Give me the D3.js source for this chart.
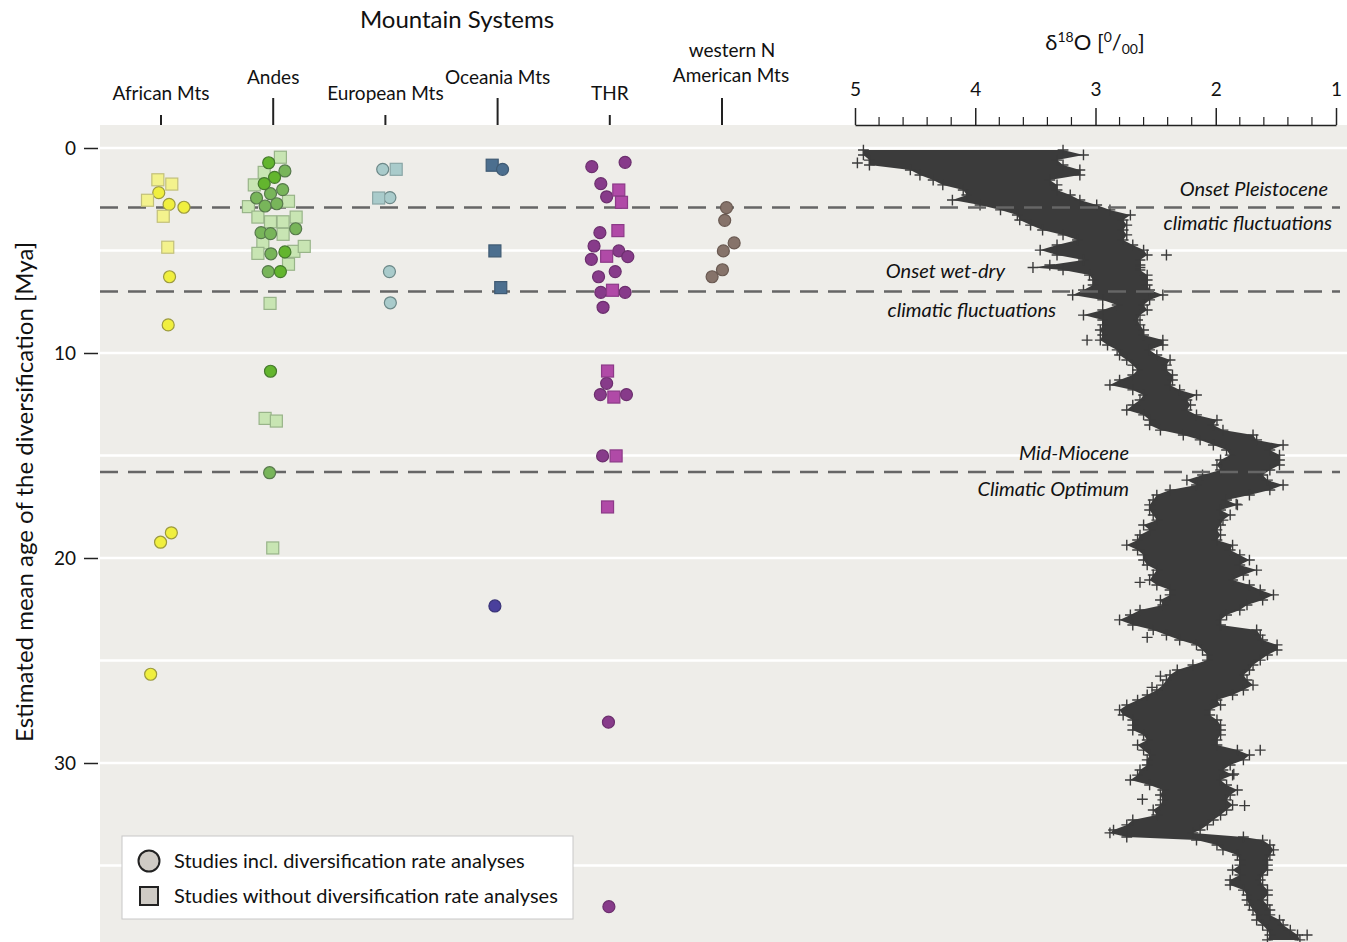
<!DOCTYPE html>
<html>
<head>
<meta charset="utf-8">
<script src="https://cdn.jsdelivr.net/npm/d3@7"></script>
<style>
  body { margin: 0; background: #fff; }
  text { font-family: Lato, "Noto Sans", sans-serif; fill: #111; }
</style>
</head>
<body>
<script>
// ---- data ----
const systems = ["African Mts", "Andes", "European Mts", "Oceania Mts", "THR", "western N American Mts"];

// [age (Mya), jitter] ; jitter is the within-column spread, -1..1
const africanCircles = [[2.18,-0.05],[2.75,0.18],[2.89,0.51],[6.28,0.19],[8.63,0.16],[18.77,0.23],[19.23,-0.01],[25.67,-0.23]];
const africanSquares = [[1.55,-0.07],[1.76,0.24],[2.55,-0.30],[3.33,0.05],[4.84,0.15]];
const andesCirclesBright = [[0.72,-0.10],[1.43,0.03],[1.74,-0.20],[5.07,0.26],[6.03,0.16],[10.89,-0.06]];
const andesCircles = [[1.12,0.26],[2.23,-0.06],[2.03,0.21],[2.44,-0.37],[2.83,-0.18],[2.72,0.08],[4.13,-0.27],[4.18,-0.06],[3.94,0.50],[5.16,-0.05],[6.03,-0.11],[15.84,-0.08]];
const andesSquares = [[0.45,0.16],[1.19,-0.20],[1.80,-0.42],[2.60,0.34],[2.86,-0.55],[3.37,-0.34],[3.60,-0.06],[3.60,0.22],[3.37,0.51],[4.21,0.22],[4.63,-0.23],[5.14,-0.34],[5.04,0.46],[4.80,0.69],[5.67,0.34],[7.58,-0.07],[13.19,-0.18],[13.32,0.07],[19.51,-0.01]];
const europeanCircles = [[1.04,-0.06],[2.42,0.10],[6.03,0.09],[7.55,0.11]];
const europeanSquares = [[1.04,0.24],[2.44,-0.15]];
const oceaniaCircles = [[1.04,0.11]];
const oceaniaCirclesDark = [[22.34,-0.06]];
const oceaniaSquares = [[0.84,-0.12],[5.02,-0.06],[6.81,0.07]];
const thrCircles = [[0.91,-0.40],[0.70,0.34],[1.74,-0.20],[2.38,-0.07],[4.13,-0.22],[4.78,-0.35],[5.43,-0.41],[5.02,0.20],[5.30,0.40],[6.28,-0.25],[6.03,0.12],[7.04,-0.20],[7.04,0.34],[7.77,-0.15],[11.48,-0.07],[12.03,-0.21],[12.03,0.37],[15.02,-0.16],[28.01,-0.03],[37.01,-0.02]];
const thrSquares = [[2.05,0.20],[2.65,0.26],[4.03,0.18],[5.28,-0.07],[6.94,0.06],[10.88,-0.05],[12.15,0.09],[15.02,0.14],[17.51,-0.05]];
const wnaCircles = [[2.91,0.10],[3.53,0.06],[4.63,0.27],[5.02,0.03],[5.94,0.01],[6.28,-0.22]];

// climatic events (Mya)
const events = [2.9, 7.0, 15.8];

// benthic d18O envelope: [age, heaviest (left), lightest (right)]
const d18O = [
[0.10,4.93,3.27],[0.34,4.93,3.10],[0.59,4.88,3.32],[0.83,4.88,3.27],[1.07,4.54,3.13],[1.32,4.46,3.13],
[1.56,4.35,3.38],[1.80,4.27,3.32],[2.05,4.10,3.32],[2.29,4.07,3.21],[2.54,4.19,3.13],[2.78,3.96,2.99],
[3.02,3.79,2.88],[3.27,3.65,2.71],[3.51,3.63,2.77],[3.76,3.54,2.74],[4.00,3.44,2.77],[4.24,3.27,2.74],
[4.49,3.15,2.77],[4.73,3.32,2.69],[4.98,3.46,2.60],[5.22,3.32,2.57],[5.46,3.10,2.63],[5.71,3.38,2.63],
[5.83,3.52,2.63],[5.95,3.27,2.63],[6.20,3.05,2.57],[6.44,3.02,2.57],[6.68,3.02,2.57],[6.93,3.10,2.55],
[7.17,3.19,2.44],[7.41,2.94,2.55],[7.66,2.82,2.60],[7.90,2.94,2.57],[8.15,3.10,2.63],[8.39,2.94,2.65],
[8.63,2.94,2.63],[8.88,2.96,2.60],[9.12,2.94,2.60],[9.37,2.96,2.44],[9.61,2.90,2.44],[9.85,2.82,2.55],
[10.10,2.80,2.49],[10.34,2.74,2.38],[10.59,2.69,2.41],[10.83,2.65,2.41],[11.07,2.69,2.36],[11.32,2.80,2.36],
[11.56,2.88,2.38],[11.80,2.69,2.30],[12.05,2.60,2.16],[12.29,2.63,2.24],[12.54,2.69,2.21],[12.78,2.74,2.24],
[13.02,2.60,2.16],[13.27,2.55,1.99],[13.51,2.55,2.02],[13.76,2.46,1.94],[14.00,2.27,1.69],[14.24,2.13,1.66],
[14.49,2.02,1.44],[14.73,1.91,1.55],[14.98,1.88,1.47],[15.22,1.96,1.47],[15.46,1.99,1.47],[15.71,1.96,1.55],
[15.95,2.11,1.61],[16.20,2.24,1.57],[16.44,2.16,1.44],[16.68,2.38,1.55],[16.93,2.49,1.72],[17.17,2.52,1.91],
[17.41,2.55,1.82],[17.66,2.55,1.96],[17.90,2.52,1.88],[18.15,2.49,1.94],[18.39,2.60,1.96],[18.63,2.55,1.99],
[18.88,2.63,1.96],[19.12,2.65,1.99],[19.37,2.74,1.86],[19.61,2.65,1.88],[19.85,2.60,1.80],[20.10,2.60,1.72],
[20.34,2.57,1.80],[20.59,2.49,1.66],[20.83,2.52,1.77],[21.07,2.55,1.86],[21.32,2.49,1.72],[21.56,2.38,1.63],
[21.80,2.38,1.52],[22.05,2.46,1.61],[22.29,2.44,1.74],[22.54,2.63,1.80],[22.78,2.71,1.91],[23.02,2.80,1.96],
[23.27,2.69,1.96],[23.51,2.52,1.66],[23.76,2.41,1.63],[24.00,2.30,1.61],[24.24,2.16,1.49],[24.49,2.11,1.49],
[24.73,2.07,1.57],[24.98,2.07,1.63],[25.22,2.19,1.69],[25.46,2.32,1.72],[25.71,2.38,1.77],[25.95,2.41,1.74],
[26.20,2.44,1.69],[26.44,2.49,1.77],[26.68,2.57,1.86],[26.93,2.65,1.99],[27.17,2.74,1.96],[27.41,2.80,2.05],
[27.66,2.77,2.05],[27.90,2.69,1.99],[28.15,2.69,1.96],[28.39,2.69,1.96],[28.63,2.60,1.96],[28.88,2.57,1.99],
[29.12,2.65,1.99],[29.37,2.60,1.82],[29.61,2.55,1.72],[29.85,2.57,1.77],[30.10,2.57,1.88],[30.34,2.63,1.94],
[30.59,2.65,1.86],[30.83,2.71,1.96],[31.07,2.55,1.91],[31.32,2.44,1.82],[31.56,2.46,1.88],[31.80,2.44,1.91],
[32.05,2.46,1.86],[32.29,2.52,1.91],[32.54,2.49,1.96],[32.78,2.69,2.02],[33.02,2.74,2.07],[33.27,2.85,2.13],
[33.41,2.88,2.19],[33.61,2.74,1.77],[33.76,2.16,1.61],[34.00,1.99,1.55],[34.24,1.94,1.52],[34.49,1.82,1.55],
[34.73,1.80,1.57],[34.98,1.80,1.57],[35.22,1.86,1.57],[35.46,1.80,1.61],[35.71,1.88,1.63],[35.95,1.88,1.61],
[36.20,1.77,1.57],[36.44,1.74,1.57],[36.68,1.74,1.61],[36.93,1.72,1.57],[37.17,1.69,1.55],[37.41,1.66,1.55],
[37.66,1.66,1.47],[37.90,1.61,1.44],[38.15,1.57,1.38],[38.39,1.55,1.32],[38.63,1.57,1.30]
];
// isolated d18O values: [age, d18O]
const d18OOutliers = [[0.73,4.98],[5.22,2.41],[9.37,3.07],[17.37,1.83],[21.19,2.63],[23.87,2.57],[25.76,2.46],[26.31,2.53],[29.37,1.63],[30.54,1.85],[31.77,2.61],[32.08,1.76],[38.39,1.24]];

const ageTicks = [0, 10, 20, 30];
const ageGrid = [0, 5, 10, 15, 20, 25, 30, 35];
const isoTicks = [5, 4, 3, 2, 1];

// ---- chart ----
const W = 1347, H = 942;
const svg = d3.select("body").append("svg").attr("width", W).attr("height", H);

const panel = { left: 100, top: 125, right: W, bottom: H };
const y = d3.scaleLinear().domain([0, 10]).range([148, 353]);
const xCat = d3.scalePoint().domain(systems).range([161, 722]);
const jit = d3.scaleLinear().domain([-1, 1]).range([-45, 45]);
const xIso = d3.scaleLinear().domain([5, 1]).range([855, 1336]);

svg.append("rect")
  .attr("x", panel.left).attr("y", panel.top)
  .attr("width", panel.right - panel.left).attr("height", panel.bottom - panel.top)
  .attr("fill", "#eeede9");

svg.selectAll(".grid").data(ageGrid).enter().append("line")
  .attr("x1", panel.left).attr("x2", panel.right)
  .attr("y1", d => y(d)).attr("y2", d => y(d))
  .attr("stroke", "#fff").attr("stroke-width", 2.5);

// left axis
const yAxis = svg.append("g").attr("transform", "translate(98,0)")
  .call(d3.axisLeft(y).tickValues(ageTicks).tickSize(14).tickPadding(8).tickFormat(d3.format("d")));
yAxis.select(".domain").remove();
yAxis.selectAll("line").attr("stroke", "#222").attr("stroke-width", 1.5);
yAxis.selectAll("text").attr("font-size", 19).attr("font-family", "Lato, sans-serif").attr("fill", "#111");

svg.append("text")
  .attr("transform", "translate(33,492) rotate(-90)")
  .attr("text-anchor", "middle").attr("font-size", 24)
  .text("Estimated mean age of the diversification [Mya]");

// column headers
svg.append("text").attr("x", 457).attr("y", 28).attr("text-anchor", "middle")
  .attr("font-size", 24).text("Mountain Systems");

systems.forEach((s, i) => {
  const high = i % 2 === 1;
  const g = svg.append("g");
  g.append("line")
    .attr("x1", xCat(s)).attr("x2", xCat(s))
    .attr("y1", high ? 98 : 115).attr("y2", panel.top)
    .attr("stroke", "#222").attr("stroke-width", 2);
  if (s === "western N American Mts") {
    g.append("text").attr("x", xCat(s) + 10).attr("y", 57).attr("text-anchor", "middle")
      .attr("font-size", 19).text("western N");
    g.append("text").attr("x", xCat(s) + 9).attr("y", 82).attr("text-anchor", "middle")
      .attr("font-size", 19).text("American Mts");
  } else {
    g.append("text").attr("x", xCat(s)).attr("y", high ? 84 : 100).attr("text-anchor", "middle")
      .attr("font-size", 19).text(s);
  }
});

// d18O top axis
const isoAxis = svg.append("g").attr("transform", "translate(0,125)");
isoAxis.call(d3.axisTop(xIso).tickValues(isoTicks).tickSize(17).tickSizeOuter(0).tickPadding(12).tickFormat(d3.format("d")));
isoAxis.selectAll(".tick text").attr("font-size", 19).attr("font-family", "Lato, sans-serif").attr("fill", "#111");
isoAxis.selectAll("line, path").attr("stroke", "#222").attr("stroke-width", 1.5);
isoAxis.selectAll(".minor").data(d3.range(50, 9, -2).map(v => v / 10).filter(v => !isoTicks.includes(v)))
  .enter().append("line").attr("class", "minor")
  .attr("x1", d => xIso(d)).attr("x2", d => xIso(d))
  .attr("y1", 0).attr("y2", -8).attr("stroke", "#222").attr("stroke-width", 1.2);

const isoTitle = svg.append("text").attr("x", 1095).attr("y", 50).attr("text-anchor", "middle").attr("font-size", 22);
isoTitle.append("tspan").text("δ");
isoTitle.append("tspan").attr("font-size", 14).attr("dy", -8).text("18");
isoTitle.append("tspan").attr("dy", 8).text("O [");
isoTitle.append("tspan").attr("font-size", 14).attr("dy", -8).text("0");
isoTitle.append("tspan").attr("dy", 8).text("/");
isoTitle.append("tspan").attr("font-size", 14).attr("dy", 4).text("00");
isoTitle.append("tspan").attr("dy", -4).text("]");

// d18O cloud
const area = d3.area()
  .y(d => y(d[0]))
  .x0(d => xIso(d[1]))
  .x1(d => xIso(d[2]));
svg.append("path").datum(d18O).attr("d", area).attr("fill", "#3b3b3b");

const plusPts = d18O.flatMap(d => [[d[0], d[1]], [d[0], d[2]]]).concat(d18OOutliers);
svg.append("g").selectAll("path").data(plusPts).enter().append("path")
  .attr("d", d3.symbol(d3.symbolCross2 || d3.symbolPlus, 40))
  .attr("transform", d => `translate(${xIso(d[1])},${y(d[0])})`)
  .attr("fill", "none").attr("stroke", "#3b3b3b").attr("stroke-width", 1.4);

// event lines
svg.selectAll(".event").data(events).enter().append("line")
  .attr("x1", panel.left).attr("x2", 1340)
  .attr("y1", d => y(d)).attr("y2", d => y(d))
  .attr("stroke", "#666").attr("stroke-width", 2.5).attr("stroke-dasharray", "18,10");

const notes = [
  ["Onset Pleistocene", 1328, events[0], -11],
  ["climatic fluctuations", 1332, events[0], 23],
  ["Onset wet-dry", 1005, events[1], -14],
  ["climatic fluctuations", 1056, events[1], 25],
  ["Mid-Miocene", 1129, events[2], -12],
  ["Climatic Optimum", 1129, events[2], 24]
];
svg.selectAll(".note").data(notes).enter().append("text")
  .attr("x", d => d[1]).attr("y", d => y(d[2]) + d[3])
  .attr("text-anchor", "end").attr("font-style", "italic").attr("font-size", 20)
  .text(d => d[0]);

// study points
const groups = [
  { sys: "African Mts", pts: africanCircles, shape: "c", fill: "#f0ef3f", stroke: "#9c9a3e" },
  { sys: "African Mts", pts: africanSquares, shape: "s", fill: "#f3f28d", stroke: "#c2c07a" },
  { sys: "Andes", pts: andesSquares, shape: "s", fill: "#c8e5b3", stroke: "#98b489" },
  { sys: "Andes", pts: andesCircles, shape: "c", fill: "#78b55a", stroke: "#577a4c" },
  { sys: "Andes", pts: andesCirclesBright, shape: "c", fill: "#63b52e", stroke: "#457a2d" },
  { sys: "European Mts", pts: europeanCircles, shape: "c", fill: "#a9cbcb", stroke: "#6c8888" },
  { sys: "European Mts", pts: europeanSquares, shape: "s", fill: "#a9cbcb", stroke: "#8aa6a6" },
  { sys: "Oceania Mts", pts: oceaniaSquares, shape: "s", fill: "#4c6f8f", stroke: "#3f5a73" },
  { sys: "Oceania Mts", pts: oceaniaCircles, shape: "c", fill: "#4c6f8f", stroke: "#3f5a73" },
  { sys: "Oceania Mts", pts: oceaniaCirclesDark, shape: "c", fill: "#4a409c", stroke: "#3a3478" },
  { sys: "THR", pts: thrCircles, shape: "c", fill: "#873b8a", stroke: "#6c2f6e" },
  { sys: "THR", pts: thrSquares, shape: "s", fill: "#b04aa7", stroke: "#8c3a88" },
  { sys: "western N American Mts", pts: wnaCircles, shape: "c", fill: "#86736a", stroke: "#6a5a52" }
];

groups.forEach(g => {
  const sel = svg.append("g").selectAll("x").data(g.pts).enter();
  if (g.shape === "c") {
    sel.append("circle")
      .attr("cx", d => xCat(g.sys) + jit(d[1])).attr("cy", d => y(d[0])).attr("r", 6)
      .attr("fill", g.fill).attr("stroke", g.stroke).attr("stroke-width", 1.2);
  } else {
    sel.append("rect")
      .attr("x", d => xCat(g.sys) + jit(d[1]) - 6).attr("y", d => y(d[0]) - 6)
      .attr("width", 12).attr("height", 12)
      .attr("fill", g.fill).attr("stroke", g.stroke).attr("stroke-width", 1.2);
  }
});

// legend
const lg = svg.append("g");
lg.append("rect").attr("x", 122).attr("y", 836).attr("width", 451).attr("height", 83)
  .attr("fill", "#fff").attr("stroke", "#c8c8c8").attr("stroke-width", 1);
lg.append("circle").attr("cx", 149).attr("cy", 861).attr("r", 10.5)
  .attr("fill", "#cfcbc5").attr("stroke", "#222").attr("stroke-width", 2);
lg.append("rect").attr("x", 140).attr("y", 887).attr("width", 18).attr("height", 18)
  .attr("fill", "#cfcbc5").attr("stroke", "#222").attr("stroke-width", 2);
lg.append("text").attr("x", 174).attr("y", 868).attr("font-size", 20).text("Studies incl. diversification rate analyses");
lg.append("text").attr("x", 174).attr("y", 903).attr("font-size", 20).text("Studies without diversification rate analyses");
</script>
</body>
</html>
